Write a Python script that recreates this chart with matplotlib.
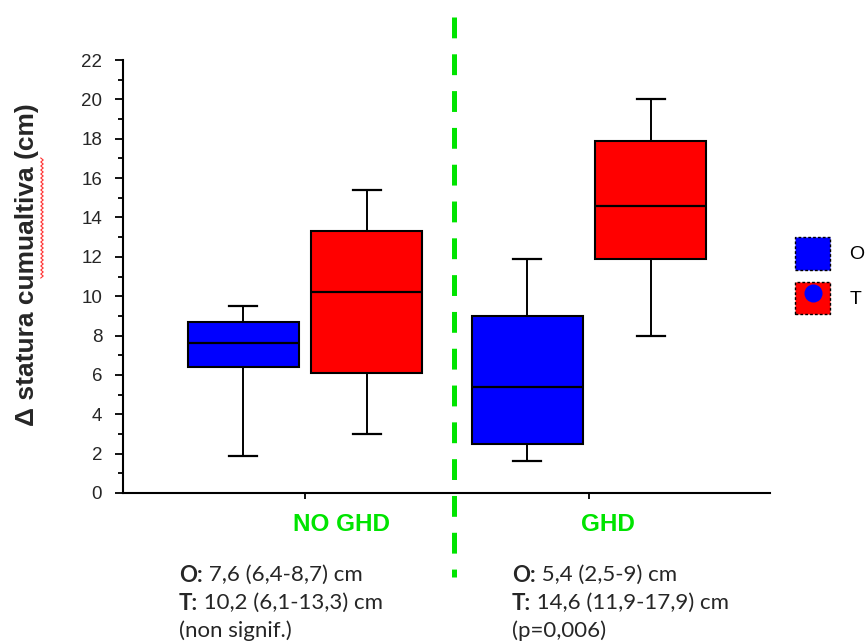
import numpy as np
import matplotlib
matplotlib.use('Agg')
import matplotlib.pyplot as plt
from matplotlib.lines import Line2D
from matplotlib.patches import Patch
from matplotlib.legend_handler import HandlerTuple

plt.rcParams['font.family'] = ['Liberation Sans', 'DejaVu Sans']
plt.rcParams['lines.scale_dashes'] = False

groups = ['NO GHD', 'GHD']

# O series (median, quartiles, whiskers)
o_lo = [1.9, 1.6]
o_q1 = [6.4, 2.5]
o_med = [7.6, 5.4]
o_q3 = [8.7, 9.0]
o_hi = [9.5, 11.9]

# T series
t_lo = [3.0, 8.0]
t_q1 = [6.1, 11.9]
t_med = [10.2, 14.6]
t_q3 = [13.3, 17.9]
t_hi = [15.4, 20.0]

notes = ['(non signif.)', '(p=0,006)']

green = '#00e400'
txt = '#262626'
note_font = ['Lato', 'DejaVu Sans']

fig = plt.figure(figsize=(8.66, 6.44), dpi=100)
ax = fig.add_axes([0.142, 0.2345, 0.747, 0.6723])

def stats(lo, q1, med, q3, hi):
    return [dict(whislo=a, q1=b, med=c, q3=d, whishi=e, fliers=[])
            for a, b, c, d, e in zip(lo, q1, med, q3, hi)]

xpos = np.arange(1, len(groups) + 1)
series = [(stats(o_lo, o_q1, o_med, o_q3, o_hi), -0.217, '#0000ff'),
          (stats(t_lo, t_q1, t_med, t_q3, t_hi), 0.218, '#ff0000')]
for st, off, col in series:
    ax.bxp(st, positions=xpos + off, widths=0.39, patch_artist=True,
           showfliers=False, capwidths=0.1,
           boxprops=dict(facecolor=col, edgecolor='black', linewidth=1.5),
           medianprops=dict(color='black', linewidth=1.6),
           whiskerprops=dict(color='black', linewidth=1.4),
           capprops=dict(color='black', linewidth=1.6))

ax.set_xlim(0.36, 2.637)
ax.set_ylim(0, 22)
ax.set_yticks(range(0, 23, 2))
ax.set_yticks(range(0, 23), minor=True)
ax.set_xticks(xpos)
ax.set_xticklabels([])
ax.tick_params(axis='y', which='major', length=6, width=1.3, labelsize=13.5,
               labelcolor=txt, pad=9)
ax.tick_params(axis='y', which='minor', length=3.5, width=1.3)
ax.tick_params(axis='x', length=4, width=1.3)
for s in ['top', 'right']:
    ax.spines[s].set_visible(False)
for s in ['left', 'bottom']:
    ax.spines[s].set_linewidth(1.5)

# group labels under the axis
label_x = [1.13, 2.067]
for g, lx in zip(groups, label_x):
    ax.text(lx, -1.6, g, color=green, fontsize=17.5, fontweight='bold',
            ha='center', va='center')

# summary lines below each group
note_x = [179 / 866, 512 / 866]
for i in range(len(groups)):
    rows = [('O:', ' %s (%s-%s) cm' % (o_med[i], o_q1[i], o_q3[i])),
            ('T:', ' %s (%s-%s) cm' % (t_med[i], t_q1[i], t_q3[i]))]
    y = 1 - 575 / 644
    for head, rest in rows:
        rest = rest.replace('.0', '').replace('.', ',')
        t = fig.text(note_x[i], y, head, fontsize=16, fontweight='bold',
                     family=note_font, color=txt, va='center')
        ax.annotate(rest, xy=(1, 0.5), xycoords=t, fontsize=16,
                    family=note_font, color=txt, va='center')
        y -= 28 / 644
    fig.text(note_x[i], y, notes[i], fontsize=16, family=note_font,
             color=txt, va='center')

# separator between the two groups
sep = Line2D([454 / 866, 454 / 866], [1 - 17 / 644, 1 - 577 / 644],
             transform=fig.transFigure, color=green, linewidth=3.6,
             dashes=(15, 11.5), solid_capstyle='butt', dash_capstyle='butt')
fig.add_artist(sep)

ax.set_ylabel('Δ statura cumualtiva (cm)', fontsize=19, fontweight='bold',
              color=txt)
ax.yaxis.set_label_coords(39 / 866, 1 - 265 / 644, transform=fig.transFigure)

# spell-check squiggle under the misspelt word
sy = np.linspace(1 - 278 / 644, 1 - 158 / 644, 61)
sx = 42 / 866 + np.where(np.arange(61) % 2, 1.2, -1.2) / 866
fig.add_artist(Line2D(sx, sy, transform=fig.transFigure, color='#ff3030',
                      linewidth=0.8))

h_o = Patch(facecolor='#0000ff', edgecolor='black', linestyle=(0, (2, 1.5)),
            linewidth=1)
h_t = (Patch(facecolor='#ff0000', edgecolor='black', linestyle=(0, (2, 1.5)),
             linewidth=1),
       Line2D([], [], marker='o', color='none', markerfacecolor='#0000ff',
              markeredgecolor='none', markersize=13))
fig.legend([h_o, h_t], ['O', 'T'], handler_map={tuple: HandlerTuple(ndivide=1)},
           loc='upper left', bbox_to_anchor=(795 / 866, 1 - 237 / 644),
           frameon=False, fontsize=14, handlelength=1.8, handleheight=2.2,
           labelspacing=0.62, handletextpad=1.0, borderpad=0, borderaxespad=0)

fig.savefig('out.png', dpi=100)
